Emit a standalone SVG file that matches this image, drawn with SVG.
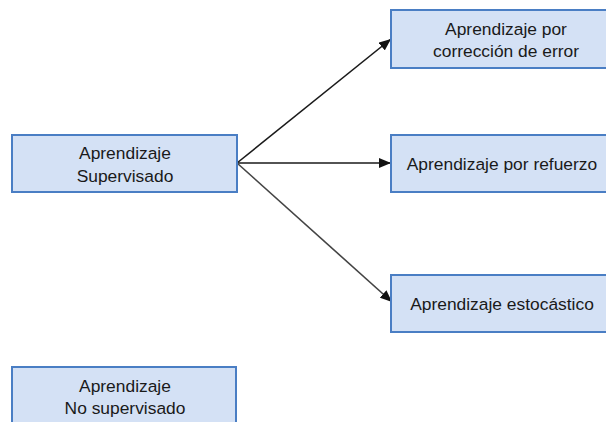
<svg xmlns="http://www.w3.org/2000/svg" width="606" height="422" viewBox="0 0 606 422">
<defs>
<style>
.box{fill:#d4e1f5;stroke:#4a7ec4;stroke-width:2}
.t{font-family:"Liberation Sans",Arial,sans-serif;font-size:17.4px;fill:#1a1a1a;text-anchor:middle}
.c{stroke:#1a1a1a;stroke-width:1.6;fill:none}
</style>
<marker id="ah" viewBox="0 0 12 10" refX="12" refY="5" markerWidth="12" markerHeight="10" markerUnits="userSpaceOnUse" orient="auto">
<path d="M0,0 L12,5 L0,10 Z" fill="#111"/>
</marker>
</defs>
<rect width="606" height="422" fill="#fff"/>
<g id="connectors">
<line class="c" x1="237" y1="163" x2="391" y2="39" marker-end="url(#ah)"/>
<line class="c" x1="237" y1="163" x2="391" y2="163" marker-end="url(#ah)"/>
<line class="c" x1="237" y1="163" x2="392" y2="302" marker-end="url(#ah)" style="stroke:#444"/>
</g>
<g id="supervisado">
<rect class="box" x="12" y="135" width="225" height="57"/>
<text class="t" x="125" y="159">Aprendizaje</text>
<text class="t" x="125" y="182">Supervisado</text>
</g>
<g id="correccion">
<rect class="box" x="391" y="10" width="225" height="58"/>
<text class="t" x="506" y="35">Aprendizaje por</text>
<text class="t" x="506" y="57">corrección de error</text>
</g>
<g id="refuerzo">
<rect class="box" x="391" y="135" width="225" height="57"/>
<text class="t" x="502" y="170">Aprendizaje por refuerzo</text>
</g>
<g id="estocastico">
<rect class="box" x="391" y="275" width="225" height="57"/>
<text class="t" x="502" y="310">Aprendizaje estocástico</text>
</g>
<g id="nosupervisado">
<rect class="box" x="12" y="367" width="224" height="70"/>
<text class="t" x="125" y="392">Aprendizaje</text>
<text class="t" x="125" y="414">No supervisado</text>
</g>
</svg>
